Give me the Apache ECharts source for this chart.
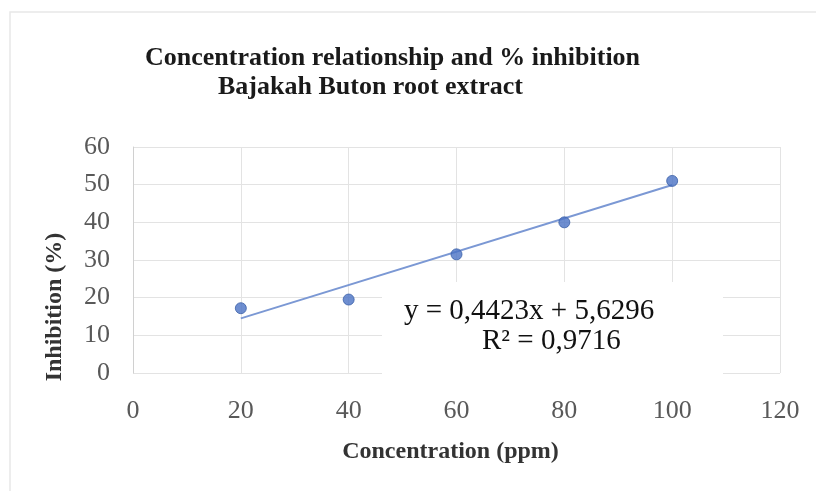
<!DOCTYPE html>
<html>
<head>
<meta charset="utf-8">
<script src="https://cdn.jsdelivr.net/npm/echarts@6/dist/echarts.min.js"></script>
<style>
html,body{margin:0;padding:0;background:#fff;}
#c{width:816px;height:491px;}
</style>
</head>
<body>
<div id="c"></div>
<script>
// ---- data ----
const titleLines = ['Concentration relationship and % inhibition', 'Bajakah Buton root extract'];
const xName = 'Concentration (ppm)';
const yName = 'Inhibition (%)';
const concentration = [20, 40, 60, 80, 100];
const inhibition = [17.2, 19.5, 31.5, 40.0, 51.0];
const trendX = [20, 100];
const trendY = [14.5, 49.9];
const equationText = 'y = 0,4423x + 5,6296';
const r2Text = 'R² = 0,9716';
const xMin = 0, xMax = 120, xStep = 20;
const yMin = 0, yMax = 60, yStep = 10;

const serif = '"Liberation Serif", "Times New Roman", serif';
const chart = echarts.init(document.getElementById('c'), null, {renderer: 'canvas'});

chart.setOption({
  backgroundColor: '#ffffff',
  animation: false,
  title: [
    {text: titleLines[0], left: 140, top: 40,
     textStyle: {fontFamily: serif, fontWeight: 'bold', fontSize: 26, color: '#1a1a1a'}},
    {text: titleLines[1], left: 213, top: 69,
     textStyle: {fontFamily: serif, fontWeight: 'bold', fontSize: 26, color: '#1a1a1a'}}
  ],
  grid: {left: 133, right: 36, top: 147, bottom: 118, containLabel: false},
  xAxis: {
    type: 'value', min: xMin, max: xMax, interval: xStep,
    name: xName, nameLocation: 'middle', nameGap: 67,
    nameTextStyle: {fontFamily: serif, fontWeight: 'bold', fontSize: 24, color: '#333', padding: [0, 12, 0, 0]},
    axisLine: {show: false},
    axisTick: {show: false},
    axisLabel: {fontFamily: serif, fontSize: 26, color: '#595959', margin: 25},
    splitLine: {show: true, lineStyle: {color: '#e3e3e3', width: 1}}
  },
  yAxis: {
    type: 'value', min: yMin, max: yMax, interval: yStep,
    axisLine: {show: true, lineStyle: {color: '#d0d0d0', width: 1}},
    axisTick: {show: false},
    axisLabel: {fontFamily: serif, fontSize: 26, color: '#595959', margin: 23},
    splitLine: {show: true, lineStyle: {color: '#e3e3e3', width: 1}}
  },
  series: [
    {
      type: 'line', name: 'trend',
      data: trendX.map((x, i) => [x, trendY[i]]),
      showSymbol: false, symbol: 'none',
      lineStyle: {color: '#7b98d4', width: 2},
      z: 2
    },
    {
      type: 'scatter', name: 'data',
      data: concentration.map((x, i) => [x, inhibition[i]]),
      symbol: 'circle', symbolSize: 11,
      itemStyle: {color: '#4a72c4', borderColor: '#3a5fa8', borderWidth: 1},
      z: 3
    }
  ],
  graphic: [
    {type: 'rect', shape: {x: 10, y: 12, width: 830, height: 520},
     style: {fill: 'none', stroke: '#e8e8e8', lineWidth: 1.5}, silent: true, z: 0},
    {type: 'rect', shape: {x: 382, y: 282, width: 341, height: 94},
     style: {fill: '#ffffff'}, z: 10},
    {type: 'text', left: 404, top: 297,
     style: {text: equationText, font: '29px ' + serif, fill: '#111'}, z: 11},
    {type: 'text', left: 482, top: 327,
     style: {text: r2Text, font: '29px ' + serif, fill: '#111'}, z: 11},
    {type: 'text', x: 55, y: 307, rotation: Math.PI / 2,
     style: {text: yName, font: 'bold 24px ' + serif, fill: '#333',
             textAlign: 'center', textVerticalAlign: 'middle'}, z: 11}
  ]
});
</script>
</body>
</html>
